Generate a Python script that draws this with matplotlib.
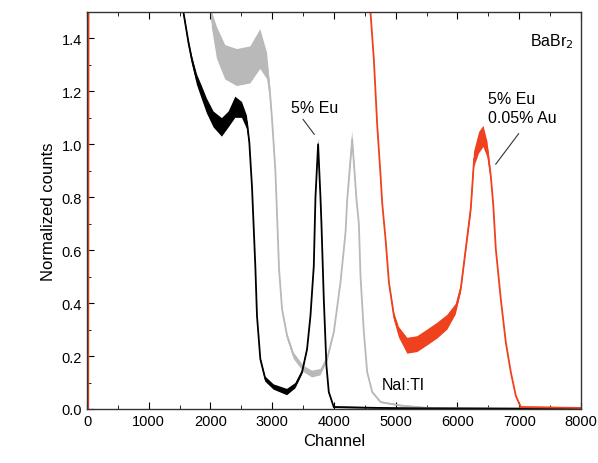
import numpy as np
import matplotlib
matplotlib.use('Agg')
import matplotlib.pyplot as plt
from matplotlib.ticker import MultipleLocator

plt.rcParams['font.family'] = ['Liberation Sans', 'DejaVu Sans']

# 数据：谱线（通道, 中心值, 噪声半宽）
black_ch = [1500, 1563, 1644, 1699, 1780, 1861, 1942, 2050, 2185, 2294, 2402, 2510,
            2591, 2629, 2672, 2726, 2753, 2807, 2888, 3024, 3240, 3375, 3483, 3564,
            3619, 3673, 3700, 3743, 3781, 3797, 3835, 3878, 3916, 3997, 5000, 8000]
black_y = [2.00, 1.497, 1.384, 1.32, 1.245, 1.195, 1.145, 1.094, 1.064, 1.094, 1.14, 1.13,
           1.083, 1.007, 0.84, 0.54, 0.352, 0.189, 0.113, 0.083, 0.064, 0.088, 0.139, 0.226,
           0.352, 0.54, 0.80, 1.00, 0.80, 0.70, 0.415, 0.163, 0.064, 0.007, 0.003, 0.0]
black_w = [0.01, 0.01, 0.012, 0.015, 0.02, 0.025, 0.028, 0.03, 0.035, 0.03, 0.04, 0.03,
           0.025, 0.01, 0.005, 0.004, 0.004, 0.006, 0.01, 0.01, 0.012, 0.01, 0.008, 0.006,
           0.005, 0.005, 0.01, 0.02, 0.01, 0.005, 0.004, 0.004, 0.004, 0.003, 0.002, 0.0]

gray_ch = [1950, 2023, 2104, 2239, 2429, 2645, 2807, 2916, 2959, 2997, 3051, 3080,
           3110, 3159, 3240, 3348, 3510, 3646, 3781, 3889, 3997, 4105, 4187, 4214,
           4295, 4365, 4403, 4430, 4484, 4538, 4620, 4755, 5079, 5512, 8000]
gray_y = [2.00, 1.47, 1.384, 1.31, 1.29, 1.30, 1.36, 1.296, 1.208, 1.094, 0.90, 0.72,
          0.53, 0.377, 0.277, 0.201, 0.151, 0.132, 0.139, 0.189, 0.29, 0.478, 0.667, 0.79,
          1.02, 0.79, 0.70, 0.50, 0.29, 0.139, 0.064, 0.026, 0.013, 0.004, 0.002]
gray_w = [0.03, 0.03, 0.06, 0.065, 0.07, 0.07, 0.075, 0.05, 0.03, 0.02, 0.015, 0.01,
          0.008, 0.008, 0.01, 0.012, 0.012, 0.013, 0.012, 0.01, 0.008, 0.008, 0.01, 0.015,
          0.03, 0.015, 0.01, 0.006, 0.005, 0.005, 0.004, 0.003, 0.003, 0.002, 0.0]

red_ch = [20, 30, 4550, 4592, 4646, 4701, 4755, 4782, 4836, 4890, 4971, 5052,
          5188, 5350, 5512, 5674, 5837, 5972, 6053, 6134, 6215, 6269, 6350, 6421,
          6486, 6540, 6580, 6621, 6702, 6783, 6864, 6945, 7026, 8000]
red_y = [0.0, 3.0, 3.0, 1.497, 1.32, 1.069, 0.88, 0.775, 0.64, 0.478, 0.352, 0.29,
         0.239, 0.245, 0.27, 0.296, 0.328, 0.377, 0.453, 0.604, 0.755, 0.943, 1.006, 1.03,
         0.98, 0.88, 0.77, 0.604, 0.415, 0.252, 0.139, 0.05, 0.007, 0.004]
red_w = [0.0, 0.0, 0.0, 0.005, 0.005, 0.005, 0.006, 0.006, 0.008, 0.01, 0.015, 0.02,
         0.03, 0.03, 0.03, 0.03, 0.028, 0.02, 0.015, 0.015, 0.02, 0.03, 0.04, 0.04,
         0.03, 0.015, 0.008, 0.005, 0.005, 0.005, 0.005, 0.004, 0.003, 0.002]

red_color = '#f0411e'
gray_color = '#b9b9b9'

fig = plt.figure(figsize=(5.98, 4.64), dpi=100)
ax = fig.add_axes([0.1455, 0.1164, 0.826, 0.8556])

for ch, y, w, c in [(gray_ch, gray_y, gray_w, gray_color),
                    (black_ch, black_y, black_w, 'black'),
                    (red_ch, red_y, red_w, red_color)]:
    ch = np.array(ch)
    y = np.array(y)
    w = np.array(w)
    ax.fill_between(ch, y - w, y + w, color=c, linewidth=0)
    ax.plot(ch, y, color=c, linewidth=1.3)

ax.set_xlim(0, 8000)
ax.set_ylim(0, 1.5)
ax.xaxis.set_major_locator(MultipleLocator(1000))
ax.xaxis.set_minor_locator(MultipleLocator(500))
ax.yaxis.set_major_locator(MultipleLocator(0.2))
ax.yaxis.set_minor_locator(MultipleLocator(0.1))
ax.yaxis.set_major_formatter(plt.FormatStrFormatter('%.1f'))
ax.tick_params(which='both', direction='in', top=True, right=False, labelsize=10.5)
ax.tick_params(which='major', length=5)
ax.tick_params(which='minor', length=3)
for s in ax.spines.values():
    s.set_linewidth(1.0)
    s.set_color('#333333')

ax.set_xlabel('Channel', fontsize=12)
ax.set_ylabel('Normalized counts', fontsize=12)

# 标注
ax.text(3694, 1.14, '5% Eu', fontsize=11.5, ha='center', va='center')
ax.plot([3500, 3680], [1.094, 1.038], color='#333333', linewidth=0.8)
ax.text(6490, 1.2, '5% Eu\n0.05% Au', fontsize=11.5, ha='left', va='top', linespacing=1.3)
ax.plot([6990, 6620], [1.04, 0.925], color='#333333', linewidth=0.8)
ax.text(7890, 1.39, 'BaBr$_2$', fontsize=11.5, ha='right', va='center')
ax.text(4770, 0.094, 'NaI:Tl', fontsize=11.5, ha='left', va='center')

fig.savefig('out.png', dpi=100)
